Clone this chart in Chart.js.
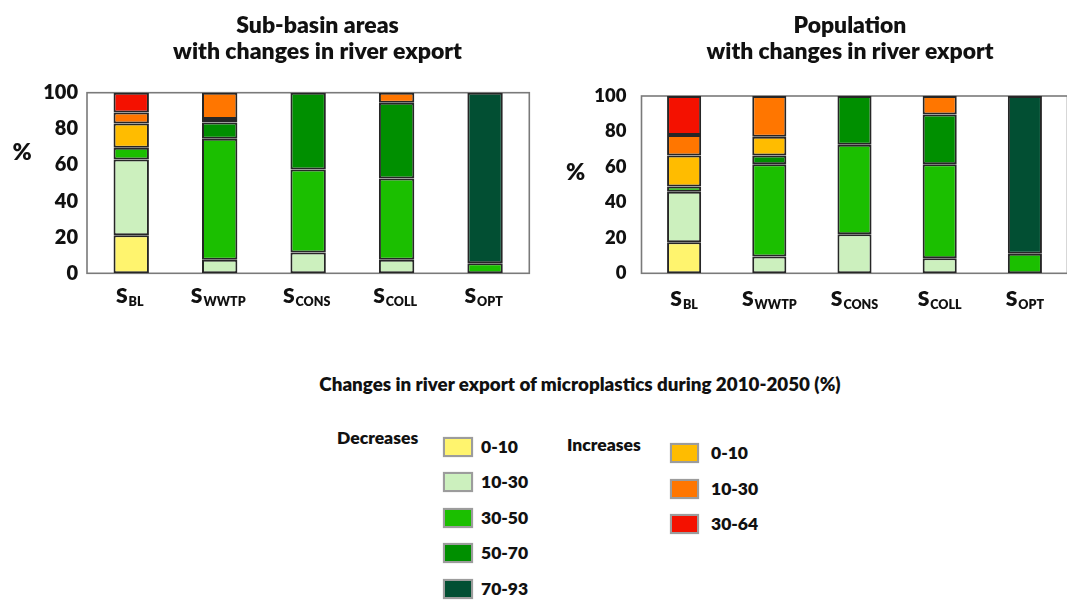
<!DOCTYPE html>
<html>
<head>
<meta charset="utf-8">
<title>Changes in river export of microplastics</title>
<script src="https://cdn.jsdelivr.net/npm/chart.js@4.4.1/dist/chart.umd.min.js"></script>
<style>
  html, body { margin: 0; padding: 0; background: #fff; }
  body { width: 1067px; height: 600px; position: relative; overflow: hidden; font-family: Lato, "Open Sans", sans-serif; color: #111; }
  canvas { position: absolute; top: 0; }
  #areaChart { left: 0; }
  #popChart { left: 535px; }
  .lg { position: absolute; font-weight: 800; white-space: nowrap; }
  .lg-title { font-size: 18.8px; line-height: 1.2; }
  .lg-text { font-size: 17.5px; line-height: 1.2; }
  .lg-box { position: absolute; box-sizing: border-box; border: 2px solid #9c9c9c; box-shadow: 0 0 1px #bbb; }
</style>
</head>
<body>
<canvas id="areaChart" width="535" height="330"></canvas>
<canvas id="popChart" width="534" height="330"></canvas>
<div id="legend"></div>
<script>
// Scenarios (S with subscript)
const scenarios = ['S_BL', 'S_WWTP', 'S_CONS', 'S_COLL', 'S_OPT'];

// Change classes, stacked from the bottom up
const classNames = ['Decreases 0-10', 'Decreases 10-30', 'Decreases 30-50', 'Decreases 50-70',
                    'Decreases 70-93', 'Increases 0-10', 'Increases 10-30', 'Increases 30-64'];
const classColors = ['#FFF46E', '#CCF0BE', '#1BBF00', '#008F00', '#024F33', '#FFBC00', '#FF7600', '#F41100'];

// Share of sub-basin area (%) per scenario
const areaDec0_10  = [21,   0,    0,    0,    0];
const areaDec10_30 = [42,   7.5,  11.5, 7.5,  0];
const areaDec30_50 = [6.5,  67,   46,   45,   5.5];
const areaDec50_70 = [0,    9,    42.5, 42,   0];
const areaDec70_93 = [0,    0,    0,    0,    94.5];
const areaInc0_10  = [13.5, 2,    0,    0,    0];
const areaInc10_30 = [6,    14.5, 0,    5.5,  0];
const areaInc30_64 = [11,   0,    0,    0,    0];

// Share of population (%) per scenario
const popDec0_10  = [17.5, 0,    0,    0,    0];
const popDec10_30 = [28.5, 9.5,  22,   8.5,  0];
const popDec30_50 = [3,    52,   50.5, 53,   11];
const popDec50_70 = [0,    5,    27.5, 28,   0];
const popDec70_93 = [0,    0,    0,    0,    89];
const popInc0_10  = [17.5, 10.5, 0,    0,    0];
const popInc10_30 = [11.5, 23,   0,    10.5, 0];
const popInc30_64 = [22,   0,    0,    0,    0];

const yTicks = [0, 20, 40, 60, 80, 100];

const decreaseLabels = ['0-10', '10-30', '30-50', '50-70', '70-93'];
const increaseLabels = ['0-10', '10-30', '30-64'];

const areaSeries = [areaDec0_10, areaDec10_30, areaDec30_50, areaDec50_70, areaDec70_93, areaInc0_10, areaInc10_30, areaInc30_64];
const popSeries  = [popDec0_10, popDec10_30, popDec30_50, popDec50_70, popDec70_93, popInc0_10, popInc10_30, popInc30_64];

const FONT = 'Lato, "Open Sans", sans-serif';
const W = 800;

// Plot frame
const framePlugin = {
  id: 'frame',
  beforeDatasetsDraw(chart) {
    const { ctx, chartArea: a } = chart;
    ctx.save();
    ctx.strokeStyle = '#7a7a7a';
    ctx.lineWidth = 1.6;
    ctx.strokeRect(a.left, a.top, a.right - a.left, a.bottom - a.top);
    ctx.restore();
  }
};

// Two-line heading, "%" unit label and subscripted scenario labels
const decorPlugin = {
  id: 'decor',
  afterDraw(chart, args, o) {
    const { ctx } = chart;
    ctx.save();
    ctx.fillStyle = '#111';
    ctx.textBaseline = 'alphabetic';
    ctx.textAlign = 'center';
    // heading: size chosen so the long line spans o.headWidth
    ctx.font = `${W} 20px ${FONT}`;
    const w20 = ctx.measureText(o.heading[1]).width;
    const hs = 20 * o.headWidth / w20;
    ctx.font = `${W} ${hs}px ${FONT}`;
    o.heading.forEach((line, i) => ctx.fillText(line, o.headX, o.headY[i]));
    // unit
    ctx.font = `${W} 23px ${FONT}`;
    ctx.fillText('%', o.unitX, o.unitY);
    // scenario labels
    const xs = chart.scales.x;
    ctx.textAlign = 'left';
    chart.data.labels.forEach((lab, i) => {
      const [main, sub] = lab.split('_');
      ctx.font = `${W} 21px ${FONT}`;
      const wm = ctx.measureText(main).width;
      ctx.font = `${W} 12.5px ${FONT}`;
      const ws = ctx.measureText(sub).width;
      const x0 = xs.getPixelForValue(i) + o.labelShift - (wm + ws + 1) / 2;
      ctx.font = `${W} 21px ${FONT}`;
      ctx.fillText(main, x0, o.labelY);
      ctx.font = `${W} 12.5px ${FONT}`;
      ctx.fillText(sub, x0 + wm + 1, o.labelY + 3);
    });
    ctx.restore();
  }
};

function buildChart(id, series, cfg) {
  const datasets = series.map((vals, k) => ({
    label: classNames[k],
    data: vals.map(v => (v === 0 ? null : v)),
    backgroundColor: classColors[k],
    borderColor: '#262626',
    borderWidth: 2,
    borderSkipped: false,
    barPercentage: 0.4,
    categoryPercentage: 1
  }));
  return new Chart(document.getElementById(id), {
    type: 'bar',
    data: { labels: scenarios, datasets },
    plugins: [framePlugin, decorPlugin],
    options: {
      responsive: false,
      animation: false,
      devicePixelRatio: 1,
      layout: { padding: { left: 0, right: cfg.padRight, top: cfg.plotTop, bottom: 0 } },
      plugins: {
        legend: { display: false },
        tooltip: { enabled: false },
        title: { display: false },
        decor: cfg.decor
      },
      scales: {
        x: {
          stacked: true,
          grid: { display: false, drawTicks: false },
          border: { display: false },
          ticks: { display: false },
          afterFit(s) { s.height = 330 - 273.3; }
        },
        y: {
          stacked: true,
          min: 0,
          max: 100,
          afterBuildTicks(s) { s.ticks = yTicks.map(v => ({ value: v })); },
          grid: { display: false, drawTicks: false },
          border: { display: false },
          ticks: {
            padding: cfg.tickPad,
            color: '#111',
            font: { family: FONT, weight: W, size: cfg.tickSize }
          },
          afterFit(s) { s.width = cfg.axisWidth; }
        }
      }
    }
  });
}

function buildLegend() {
  const root = document.getElementById('legend');
  const add = (cls, text, left, top, extra) => {
    const d = document.createElement('div');
    d.className = 'lg ' + cls;
    d.textContent = text;
    d.style.left = left + 'px';
    d.style.top = top + 'px';
    if (extra) Object.assign(d.style, extra);
    root.appendChild(d);
    return d;
  };
  const box = (color, left, top, w) => {
    const b = document.createElement('div');
    b.className = 'lg-box';
    Object.assign(b.style, { left: left + 'px', top: top + 'px', width: w + 'px', height: '20px', background: color });
    root.appendChild(b);
  };
  add('lg-title', 'Changes in river export of microplastics during 2010-2050 (%)', 0, 372.5,
      { width: '1160px', textAlign: 'center' });
  add('lg-text', 'Decreases', 337, 427);
  decreaseLabels.forEach((t, i) => {
    const top = 436.7 + i * 35.5;
    box(classColors[i], 442.7, top, 30);
    add('lg-text', t, 481, top + 10 + 6.3 - 17.3);
  });
  add('lg-text', 'Increases', 567, 433.7);
  increaseLabels.forEach((t, i) => {
    const top = 443.3 + i * 35.2;
    box(classColors[5 + i], 670, top, 29);
    add('lg-text', t, 711, top + 10 + 6.3 - 17.3);
  });
}

Promise.all([
  document.fonts.load(`${W} 20px Lato`),
  document.fonts.load(`${W} 11px Lato`)
]).catch(() => {}).then(() => {
  buildChart('areaChart', areaSeries, {
    plotTop: 92.7, padRight: 535 - 529.3, axisWidth: 87, tickPad: 9, tickSize: 20,
    decor: {
      heading: ['Sub-basin areas', 'with changes in river export'],
      headX: 317.5, headY: [33, 59], headWidth: 289,
      unitX: 22, unitY: 160, labelY: 303, labelShift: -1.5
    }
  });
  buildChart('popChart', popSeries, {
    plotTop: 96, padRight: 1.5, axisWidth: 106.5, tickPad: 15, tickSize: 18.5,
    decor: {
      heading: ['Population', 'with changes in river export'],
      headX: 850 - 535, headY: [32.5, 58.5], headWidth: 287,
      unitX: 575.5 - 535, unitY: 180, labelY: 305.5, labelShift: 0
    }
  });
  buildLegend();
});
</script>
</body>
</html>
